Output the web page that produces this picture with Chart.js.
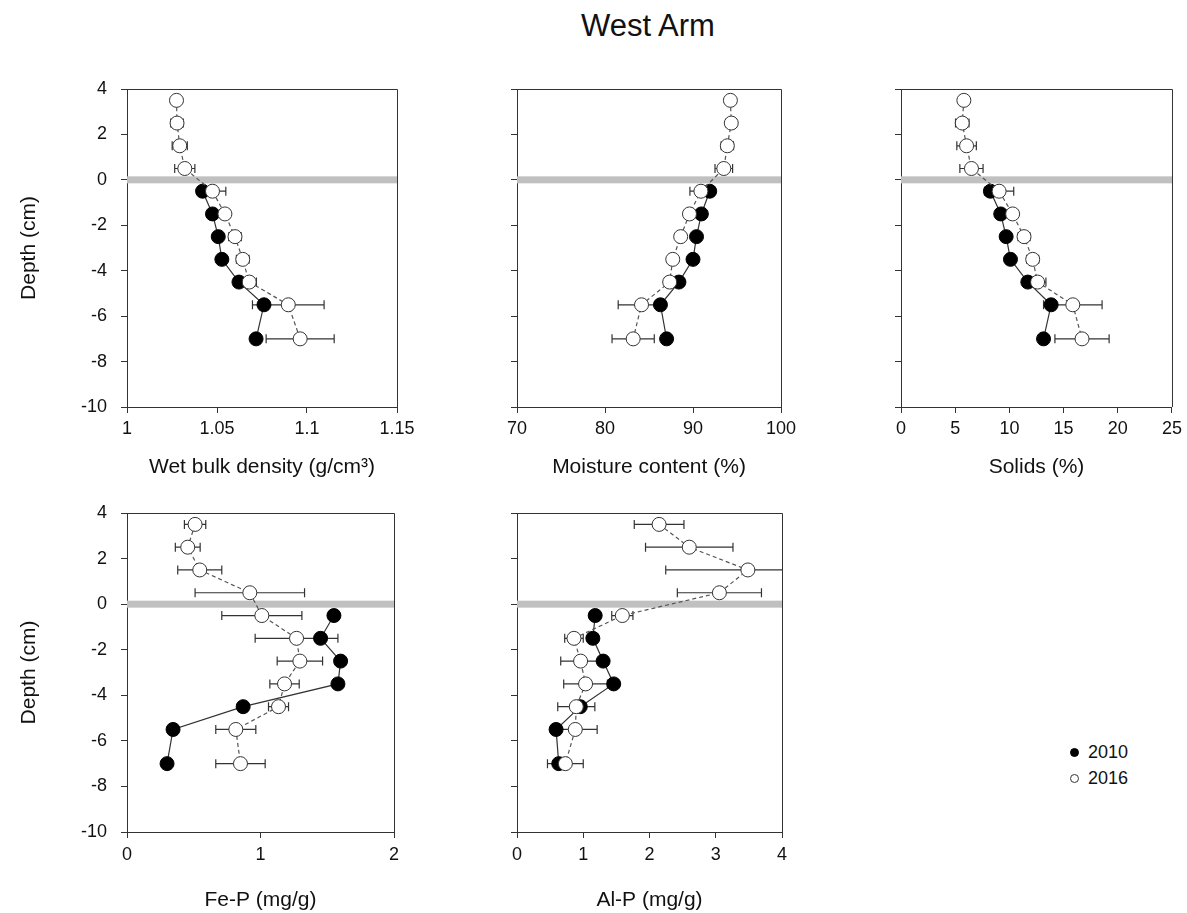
<!DOCTYPE html>
<html>
<head>
<meta charset="utf-8">
<script src="https://cdn.jsdelivr.net/npm/chart.js@4.4.1/dist/chart.umd.min.js"></script>
<style>
  body { margin: 0; background: #fff; width: 1187px; height: 913px; position: relative; overflow: hidden;
         font-family: "Liberation Sans", Arial, sans-serif; color: #111; }
  canvas { position: absolute; }
  #title { position: absolute; left: 448px; width: 400px; top: 10px; line-height: 31px; font-size: 31px; text-align: center; }
  .leg { position: absolute; left: 1070px; font-size: 18px; line-height: 20px; }
  .leg span { display: inline-block; width: 7px; height: 7px; border-radius: 50%; margin-right: 9px; vertical-align: 1px; }
</style>
</head>
<body>
<div id="title">West Arm</div>
<div class="leg" style="top:742px"><span style="background:#000;border:1px solid #000"></span>2010</div>
<div class="leg" style="top:768px"><span style="background:#fff;border:1px solid #333"></span>2016</div>

<canvas id="c1"></canvas>
<canvas id="c2"></canvas>
<canvas id="c3"></canvas>
<canvas id="c4"></canvas>
<canvas id="c5"></canvas>

<script>
// depths (cm), same for every panel
const depth2016 = [3.5, 2.5, 1.5, 0.5, -0.5, -1.5, -2.5, -3.5, -4.5, -5.5, -7];
const depth2010 = [-0.5, -1.5, -2.5, -3.5, -4.5, -5.5, -7];

// wet bulk density (g/cm3)
const wbd2010 = [1.042, 1.0475, 1.0507, 1.0527, 1.0622, 1.0761, 1.0717];
const wbd2016 = [1.0275, 1.0278, 1.0293, 1.0321, 1.0475, 1.0544, 1.0600, 1.0643, 1.0679, 1.0896, 1.0962];
const wbd2016Err = [0.001, 0.0035, 0.0042, 0.0056, 0.0074, 0.002, 0.0035, 0.0035, 0.004, 0.0199, 0.0189];

// moisture content (%)
const mc2010 = [91.9, 90.95, 90.4, 90.0, 88.4, 86.3, 87.0];
const mc2016 = [94.25, 94.35, 93.9, 93.5, 90.9, 89.6, 88.6, 87.7, 87.35, 84.15, 83.2];
const mc2016Err = [0.2, 0.6, 0.7, 1.0, 1.25, 0.3, 0.3, 0.3, 0.6, 2.65, 2.4];

// solids (%)
const so2010 = [8.25, 9.2, 9.7, 10.1, 11.7, 13.85, 13.15];
const so2016 = [5.8, 5.65, 6.05, 6.5, 9.05, 10.3, 11.35, 12.15, 12.6, 15.85, 16.7];
const so2016Err = [0.2, 0.62, 0.9, 1.07, 1.35, 0.3, 0.55, 0.55, 0.77, 2.7, 2.5];

// Fe-P (mg/g)
const fe2010 = [1.55, 1.45, 1.6, 1.58, 0.87, 0.345, 0.3];
const fe2016 = [0.51, 0.455, 0.545, 0.92, 1.01, 1.27, 1.295, 1.18, 1.135, 0.815, 0.85];
const fe2016Err = [0.08, 0.093, 0.165, 0.41, 0.3, 0.31, 0.17, 0.11, 0.075, 0.15, 0.185];

// Al-P (mg/g)
const al2010 = [1.18, 1.145, 1.3, 1.46, 0.955, 0.59, 0.63];
const al2016 = [2.145, 2.6, 3.485, 3.055, 1.59, 0.86, 0.96, 1.035, 0.895, 0.88, 0.73];
const al2016Err = [0.375, 0.66, 1.24, 0.635, 0.16, 0.14, 0.3, 0.33, 0.28, 0.33, 0.27];

Chart.defaults.font.family = '"Liberation Sans", Arial, sans-serif';
Chart.defaults.color = '#111';

function pts(xs, ys) {
  return xs.map((v, i) => ({ x: v, y: ys[i] }));
}

// grey surface band at 0 cm, error bars, and the box around the plot
const boxPlugin = {
  id: 'box',
  beforeDatasetsDraw(chart) {
    const { ctx, chartArea: a, scales: { x, y } } = chart;
    ctx.save();
    ctx.fillStyle = '#c0c0c0';
    ctx.fillRect(a.left, y.getPixelForValue(0) - 3.5, a.right - a.left, 7);
    ctx.beginPath();
    ctx.rect(a.left, a.top, a.right - a.left, a.bottom - a.top);
    ctx.clip();
    ctx.strokeStyle = '#333';
    ctx.lineWidth = 1.2;
    chart.data.datasets.forEach(ds => {
      if (!ds.xErr) return;
      ds.data.forEach((p, i) => {
        const e = ds.xErr[i];
        const py = y.getPixelForValue(p.y);
        const x1 = x.getPixelForValue(p.x - e);
        const x2 = x.getPixelForValue(p.x + e);
        ctx.beginPath();
        ctx.moveTo(x1, py); ctx.lineTo(x2, py);
        ctx.moveTo(x1, py - 4.5); ctx.lineTo(x1, py + 4.5);
        ctx.moveTo(x2, py - 4.5); ctx.lineTo(x2, py + 4.5);
        ctx.stroke();
      });
    });
    ctx.restore();
  },
  afterDraw(chart) {
    const { ctx, chartArea: a } = chart;
    ctx.save();
    ctx.strokeStyle = '#333';
    ctx.lineWidth = 1;
    ctx.beginPath();
    ctx.moveTo(a.left, a.top + 0.5);
    ctx.lineTo(a.right + 0.5, a.top + 0.5);
    ctx.lineTo(a.right + 0.5, a.bottom);
    ctx.stroke();
    ctx.restore();
  }
};

function panel(id, g, xMin, xMax, xStep, xTitle, d2010, d2016, e2016) {
  const yW = g.showY ? g.left : 60;
  const padTop = 12;
  const xH = g.bottomRow ? 81 : 80;
  const cv = document.getElementById(id);
  cv.width = yW + (g.right - g.left) + g.padRight;
  cv.height = padTop + (g.bottom - g.top) + xH;
  cv.style.left = (g.left - yW) + 'px';
  cv.style.top = (g.top - padTop) + 'px';

  return new Chart(cv, {
    type: 'scatter',
    data: {
      datasets: [
        {
          label: '2016',
          data: pts(d2016, depth2016),
          xErr: e2016,
          showLine: true,
          borderColor: '#555',
          borderWidth: 1.2,
          borderDash: [4, 3],
          pointRadius: 7,
          pointHoverRadius: 7,
          pointBackgroundColor: '#fff',
          pointBorderColor: '#333',
          pointBorderWidth: 1
        },
        {
          label: '2010',
          data: pts(d2010, depth2010),
          showLine: true,
          borderColor: '#333',
          borderWidth: 1.2,
          pointRadius: 7,
          pointHoverRadius: 7,
          pointBackgroundColor: '#000',
          pointBorderColor: '#000',
          pointBorderWidth: 1
        }
      ]
    },
    options: {
      responsive: false,
      animation: false,
      events: [],
      layout: { padding: { top: padTop, right: g.padRight, left: 0, bottom: 0 } },
      plugins: { legend: { display: false }, tooltip: { enabled: false } },
      scales: {
        x: {
          type: 'linear',
          min: xMin,
          max: xMax,
          ticks: {
            stepSize: xStep,
            font: { size: 18 },
            padding: g.bottomRow ? 6 : 5,
            maxRotation: 0,
            callback: v => String(Math.round(v * 100) / 100)
          },
          grid: { drawOnChartArea: false, tickLength: 6, tickColor: '#333' },
          border: { color: '#333', width: 1 },
          title: { display: true, text: xTitle, font: { size: 21 }, padding: { top: 0, bottom: g.bottomRow ? 0 : 7 } },
          afterFit: s => { s.height = xH; }
        },
        y: {
          type: 'linear',
          min: -10,
          max: 4,
          ticks: {
            stepSize: 2,
            display: g.showY,
            font: { size: 18 },
            padding: 14,
            callback: v => String(v)
          },
          grid: { drawOnChartArea: false, tickLength: 6, tickColor: '#333' },
          border: { color: '#333', width: 1 },
          title: { display: g.showY, text: 'Depth (cm)', font: { size: 21 }, padding: { top: 17, bottom: 0 } },
          // fixed width; drop the label overhang so the plot area starts where it should
          afterFit: s => { s.width = yW; s.paddingTop = 0; s.paddingBottom = 0; }
        }
      }
    },
    plugins: [boxPlugin]
  });
}

panel('c1', { left: 127, top: 89, right: 397, bottom: 407, padRight: 24, showY: true, bottomRow: false },
  1, 1.15, 0.05, 'Wet bulk density (g/cm³)', wbd2010, wbd2016, wbd2016Err);
panel('c2', { left: 517, top: 89, right: 781, bottom: 407, padRight: 24, showY: false, bottomRow: false },
  70, 100, 10, 'Moisture content (%)', mc2010, mc2016, mc2016Err);
panel('c3', { left: 901, top: 89, right: 1173, bottom: 407, padRight: 14, showY: false, bottomRow: false },
  0, 25, 5, 'Solids (%)', so2010, so2016, so2016Err);
panel('c4', { left: 127, top: 513, right: 394, bottom: 832, padRight: 24, showY: true, bottomRow: true },
  0, 2, 1, 'Fe-P (mg/g)', fe2010, fe2016, fe2016Err);
panel('c5', { left: 517, top: 513, right: 782, bottom: 832, padRight: 24, showY: false, bottomRow: true },
  0, 4, 1, 'Al-P (mg/g)', al2010, al2016, al2016Err);
</script>
</body>
</html>
